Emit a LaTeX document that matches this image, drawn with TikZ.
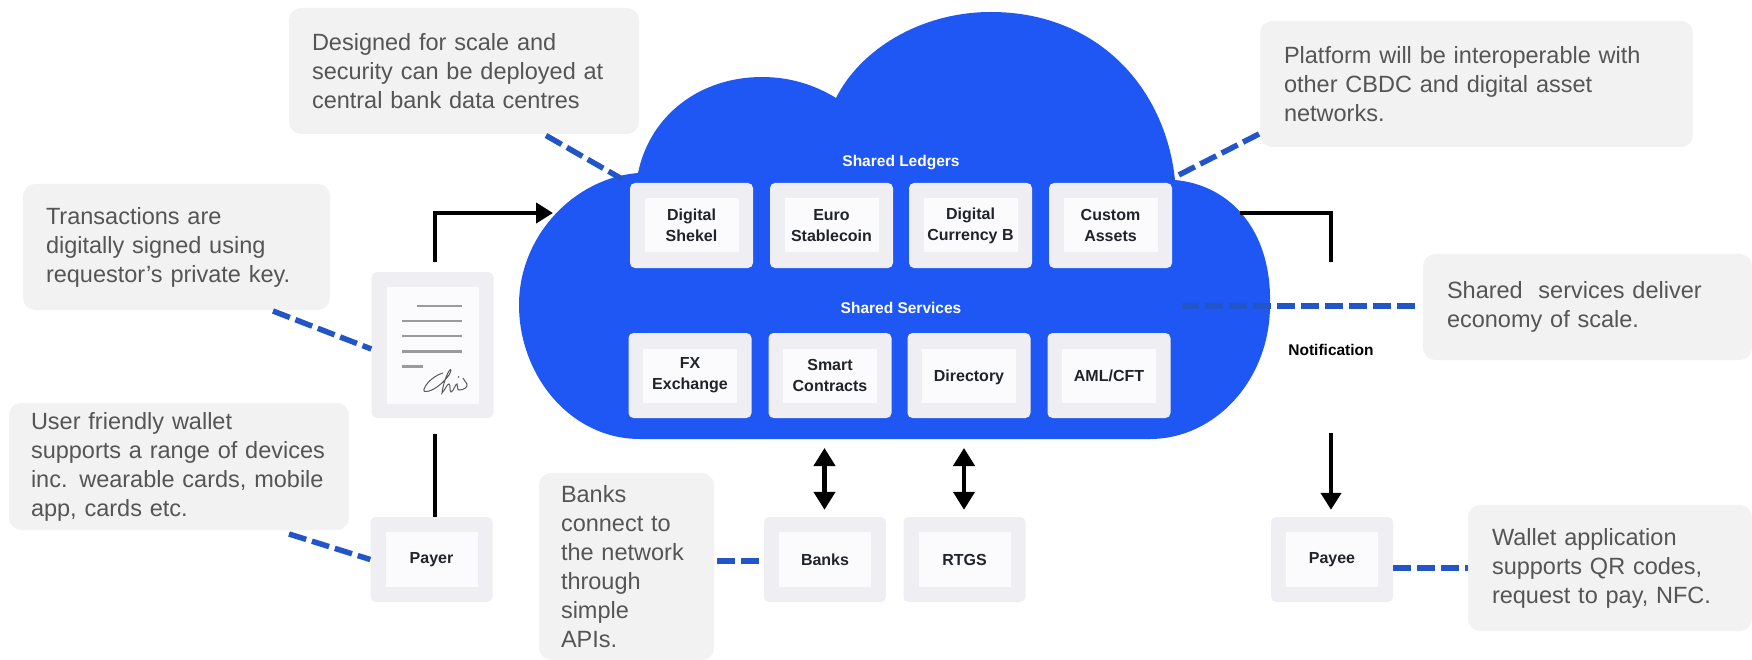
\documentclass[tikz,border=0pt]{standalone}
\usepackage{fontspec}
\setmainfont{Liberation Sans}
\usetikzlibrary{arrows.meta,calc}
\definecolor{cloudblue}{HTML}{1F57F5}
\definecolor{dashblue}{HTML}{2256C8}
\definecolor{callgray}{HTML}{F2F2F3}
\definecolor{calltext}{HTML}{555555}
\definecolor{boxgray}{HTML}{EFEFF3}
\definecolor{boxinner}{HTML}{FBFBFD}
\definecolor{labeltext}{HTML}{20242A}
\definecolor{rulegray}{HTML}{9A9A9A}
\tikzset{
  callout/.style={fill=callgray,rounded corners=12,inner sep=0pt,align=left,text=calltext,font=\fontsize{23.5}{29}\selectfont},
  outerbox/.style={fill=boxgray,rounded corners=5,inner sep=0pt},
  innerbox/.style={fill=boxinner,inner sep=0pt,align=center,text=labeltext,font=\fontsize{16}{21}\selectfont\bfseries},
  header/.style={text=white,font=\fontsize{15.5}{18}\selectfont\bfseries,inner sep=0pt},
  dashline/.style={draw=dashblue,line width=5.5,dash pattern=on 18 off 6},
  flow/.style={draw=black,line width=4.3},
  flowtip/.style={flow,-{Triangle[width=20,length=17]}},
  flowboth/.style={flow,{Triangle[width=21,length=18]}-{Triangle[width=21,length=18]}},
  sigline/.style={draw=rulegray,line width=2.5},
  sigpen/.style={draw=black!65,line width=1}
}
\newcommand{\lgbox}[5]{% name, cx, cy, text, extra options of the inner node
  \node[outerbox,minimum width=123,minimum height=85] (#1) at (#2,#3) {};
  \node[innerbox,minimum width=94,minimum height=54,#5] (#1in) at (#2,#3) {#4};
}
\newcommand{\lowbox}[4]{%
  \node[outerbox,minimum width=122,minimum height=85] (#1) at (#2,#3) {};
  \node[innerbox,minimum width=92,minimum height=55] (#1in) at (#2,#3) {#4};
}
\begin{document}
\begin{tikzpicture}[x=1pt,y=-1pt]
\useasboundingbox (0,0) rectangle (1752,660);
% cloud
\fill[cloudblue] (519,305) .. controls (519,235) and (575,178) .. (638,173)
  .. controls (650,115) and (700,77) .. (762,77)
  .. controls (790,77) and (815,85) .. (836,98)
  .. controls (860,50) and (920,12) .. (991,12)
  .. controls (1095,12) and (1165,85) .. (1175,180)
  .. controls (1230,185) and (1272,230) .. (1270,305)
  .. controls (1270,380) and (1215,439) .. (1150,439)
  -- (640,439)
  .. controls (570,439) and (519,375) .. (519,305) -- cycle;
\node[header] (ledgers) at (901,163) {Shared Ledgers};
\node[header] (services) at (901,308) {Shared Services};
% ledgers and services
\lgbox{shekel}{691.5}{225.5}{Digital\\Shekel}{}
\lgbox{euro}{831.5}{225.5}{Euro\\Stablecoin}{}
\lgbox{currb}{970.5}{225.5}{Digital\\Currency B}{}
\lgbox{custom}{1110.5}{225.5}{Custom\\Assets}{}
\lgbox{fx}{690}{375.5}{FX\\Exchange}{}
\lgbox{smart}{830}{375.5}{Smart\\Contracts}{}
\lgbox{direct}{969}{375.5}{Directory}{text depth=0pt}
\lgbox{aml}{1109}{375.5}{AML/CFT}{text depth=0pt}
% lower boxes
\lowbox{payer}{431.5}{559.5}{Payer}
\lowbox{banks}{825}{559.5}{Banks}
\lowbox{rtgs}{964.5}{559.5}{RTGS}
\lowbox{payee}{1332}{559.5}{Payee}
% document
\node[outerbox,minimum width=122,minimum height=146] (doc) at (432.5,345) {};
\node[fill=boxinner,inner sep=0pt,minimum width=92,minimum height=117] (docin) at (433,345.5) {};
\draw[sigline] (417,306) -- (462,306);
\draw[sigline] (402,321) -- (462,321);
\draw[sigline] (402,336) -- (462,336);
\draw[sigline] (402,351.5) -- (462,351.5);
\draw[sigline] (402,366.5) -- (423,366.5);
\draw[sigpen] (443,373) .. controls (436,375) and (428,381) .. (425,387)
  .. controls (422,392) and (425,392) .. (429,391)
  .. controls (436,389) and (444,382) .. (449,375)
  .. controls (452,370) and (451,368) .. (449,371)
  .. controls (446,376) and (443,385) .. (442,393)
  .. controls (445,390) and (447,384) .. (449,384)
  .. controls (451,385) and (449,391) .. (451,392)
  .. controls (454,391) and (455,384) .. (457,384)
  .. controls (458,386) and (457,390) .. (459,390)
  .. controls (464,390) and (468,387) .. (467,384)
  .. controls (466,381) and (463,380) .. (463,378);
\fill[black!65] (458.5,377) circle (0.9);
% callouts
\node[callout,minimum width=350,minimum height=126,text width=304] (c1) at (464,71)
  {Designed for scale and\\security can be deployed at\\central bank data centres};
\node[callout,minimum width=433,minimum height=126,text width=385] (c2) at (1476.5,84)
  {Platform will be interoperable with\\other CBDC and digital asset\\networks.};
\node[callout,minimum width=307,minimum height=126,text width=261] (c3) at (176.5,247)
  {Transactions are\\digitally signed using\\requestor’s private key.};
\node[callout,minimum width=329,minimum height=106,text width=281] (c4) at (1587.5,307)
  {Shared\ \ services deliver\\economy of scale.};
\node[callout,minimum width=340,minimum height=127,text width=296] (c5) at (179,466.5)
  {User friendly wallet\\supports a range of devices\\inc. wearable cards, mobile\\app, cards etc.};
\node[callout,minimum width=175,minimum height=187,text width=131] (c6) at (626.5,566.5)
  {Banks\\connect to\\the network\\through\\simple\\APIs.};
\node[callout,minimum width=284,minimum height=126,text width=236] (c7) at (1610,568)
  {Wallet application\\supports QR codes,\\request to pay, NFC.};
% free ends
\coordinate (c1end) at (546,135.5);
\coordinate (c1cloud) at (622,179);
\coordinate (c2end) at (1259,134);
\coordinate (c2cloud) at (1171,179);
\coordinate (c3end) at (273,311);
\coordinate (c4cloud) at (1182,306);
\coordinate (c5end) at (289,534);
\coordinate (c6end) at (717,561);
\coordinate (cloudin) at (553,213);
\coordinate (cloudout) at (1240,213);
\coordinate (notifend) at (1331,262);
\coordinate (notifstart) at (1331,433);
\coordinate (banksup) at (824.5,448);
\coordinate (rtgsup) at (964,448);
% dashed connectors
\draw[dashline] (c1end) -- (c1cloud);
\draw[dashline] (c2end) -- (c2cloud);
\draw[dashline] (c3end) -- ([yshift=-4]doc.west);
\draw[dashline] ([xshift=-8]c4.west |- c4cloud) -- (c4cloud);
\draw[dashline] (c5end) -- (payer.west);
\draw[dashline] (c6end) -- ([xshift=-4]banks.west |- c6end);
\draw[dashline] (payee.east |- 0,568) -- (c7.west |- 0,568);
% flows
\draw[flow] ([xshift=3.5]payer.north) -- ([xshift=2.5,yshift=-15.5]doc.south);
\draw[flowtip] ([xshift=2.5,yshift=10]doc.north) |- (cloudin);
\draw[flow] (cloudout) -| (notifend);
\draw[flowtip] (notifstart) -- ([xshift=-1,yshift=7]payee.north);
\draw[flowboth] (banksup) -- ([xshift=-0.5,yshift=7]banks.north);
\draw[flowboth] (rtgsup) -- ([xshift=-0.5,yshift=7]rtgs.north);
\node[inner sep=0pt,font=\fontsize{15.5}{18}\selectfont\bfseries,text=black] (notif) at (1331,350) {Notification};
\end{tikzpicture}
\end{document}
